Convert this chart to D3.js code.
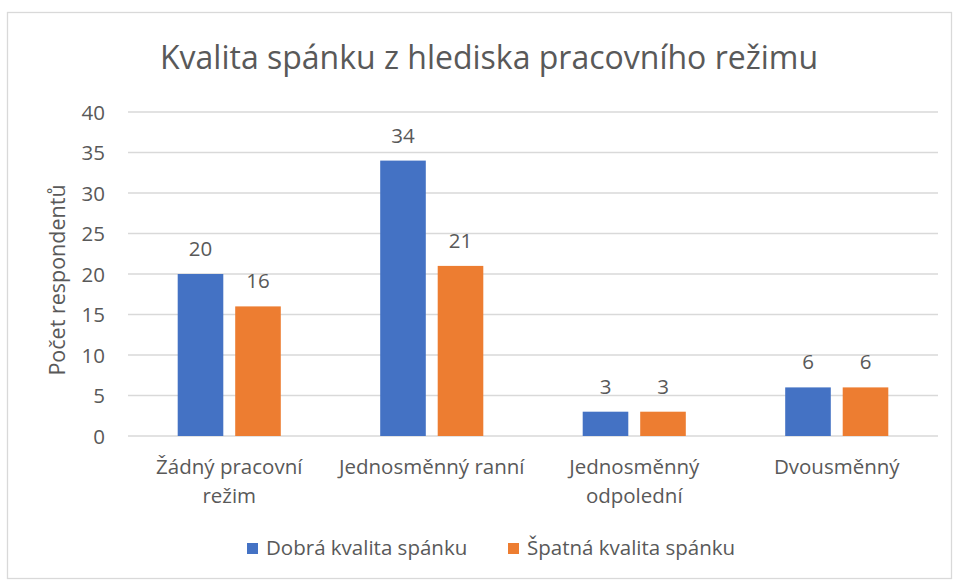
<!DOCTYPE html>
<html>
<head>
<meta charset="utf-8">
<script src="https://cdn.jsdelivr.net/npm/d3@7"></script>
<style>
  body { margin: 0; background: #fff; }
  svg text { font-family: "Open Sans", sans-serif; fill: #595959; }
</style>
</head>
<body>
<svg width="956" height="581"></svg>
<script>
// data
var categories = [["Žádný pracovní", "režim"], ["Jednosměnný ranní"], ["Jednosměnný", "odpolední"], ["Dvousměnný"]];
var seriesNames = ["Dobrá kvalita spánku", "Špatná kvalita spánku"];
var goodSleep = [20, 34, 3, 6];
var badSleep = [16, 21, 3, 6];
var yTicks = [0, 5, 10, 15, 20, 25, 30, 35, 40];
var colors = ["#4472C4", "#ED7D31"];

var svg = d3.select("svg"),
    margin = {top: 112, right: 18, bottom: 145, left: 128},
    width = +svg.attr("width") - margin.left - margin.right,
    height = +svg.attr("height") - margin.top - margin.bottom;

// chart border
svg.append("rect")
    .attr("x", 7.5).attr("y", 12.5)
    .attr("width", 944).attr("height", 566)
    .attr("fill", "#fff")
    .attr("stroke", "#d9d9d9")
    .attr("stroke-width", 1.3);

var g = svg.append("g").attr("transform", "translate(" + margin.left + "," + margin.top + ")");

var keys = categories.map(d => d.join(" "));
var data = keys.map((k, i) => ({key: k, values: [goodSleep[i], badSleep[i]]}));

var x0 = d3.scaleBand().domain(keys).range([0, width]).padding(0);
var x1 = d3.scaleBand().domain([0, 1])
    .range([49.7, x0.bandwidth() - 49.7])
    .paddingInner(0.207);
var y = d3.scaleLinear().domain([0, 40]).range([height, 0]);

// gridlines
g.selectAll(".grid")
    .data(yTicks)
    .enter().append("line")
    .attr("class", "grid")
    .attr("x1", 0).attr("x2", width)
    .attr("y1", d => y(d)).attr("y2", d => y(d))
    .attr("stroke", "#d9d9d9")
    .attr("stroke-width", 1.3);

// y tick labels
g.selectAll(".ytick")
    .data(yTicks)
    .enter().append("text")
    .attr("class", "ytick")
    .attr("x", -23)
    .attr("y", d => y(d) + 7.5)
    .attr("text-anchor", "end")
    .style("font-size", "20.5px")
    .text(d => d);

// bars
var groups = g.selectAll(".cat")
    .data(data)
    .enter().append("g")
    .attr("class", "cat")
    .attr("transform", d => "translate(" + x0(d.key) + ",0)");

groups.selectAll("rect")
    .data(d => d.values)
    .enter().append("rect")
    .attr("x", (v, i) => x1(i))
    .attr("y", v => y(v))
    .attr("width", x1.bandwidth())
    .attr("height", v => height - y(v))
    .attr("fill", (v, i) => colors[i]);

// value labels
groups.selectAll(".val")
    .data(d => d.values)
    .enter().append("text")
    .attr("class", "val")
    .attr("x", (v, i) => x1(i) + x1.bandwidth() / 2)
    .attr("y", v => y(v) - 18)
    .attr("text-anchor", "middle")
    .style("font-size", "20.5px")
    .text(v => v);

// category labels
categories.forEach(function(lines, i) {
    var t = g.append("text")
        .attr("x", x0(keys[i]) + x0.bandwidth() / 2)
        .attr("y", height + 38)
        .attr("text-anchor", "middle")
        .style("font-size", "20.5px");
    lines.forEach(function(line, j) {
        t.append("tspan")
            .attr("x", x0(keys[i]) + x0.bandwidth() / 2)
            .attr("dy", j === 0 ? 0 : 29)
            .text(line);
    });
});

// title
svg.append("text")
    .attr("x", 489)
    .attr("y", 69)
    .attr("text-anchor", "middle")
    .style("font-size", "32px")
    .text("Kvalita spánku z hlediska pracovního režimu");

// y axis label
svg.append("text")
    .attr("transform", "translate(65,280) rotate(-90)")
    .attr("text-anchor", "middle")
    .style("font-size", "21.5px")
    .text("Počet respondentů");

// legend
var legend = svg.append("g").attr("transform", "translate(0,548)");
var legendX = [247, 508];
seriesNames.forEach(function(name, i) {
    legend.append("rect")
        .attr("x", legendX[i]).attr("y", -5)
        .attr("width", 11).attr("height", 11)
        .attr("fill", colors[i]);
    legend.append("text")
        .attr("x", legendX[i] + 19)
        .attr("y", 7)
        .style("font-size", "20.5px")
        .text(name);
});
</script>
</body>
</html>
